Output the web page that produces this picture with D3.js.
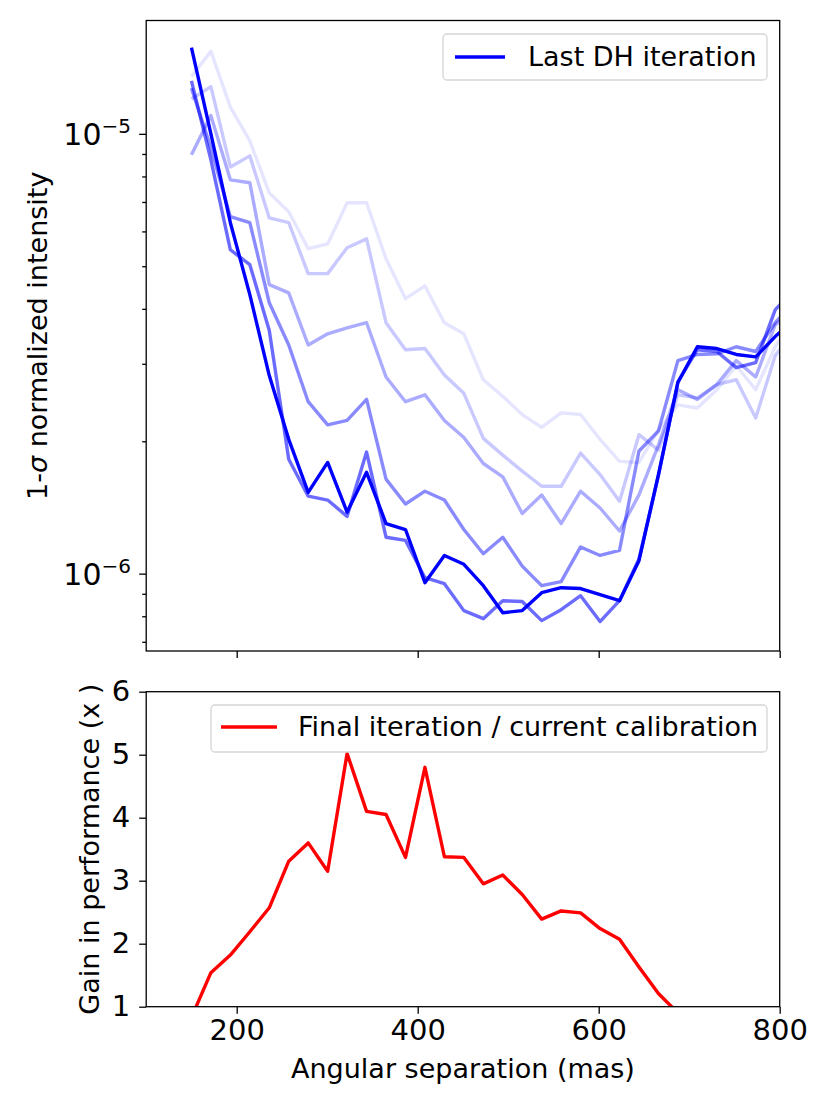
<!DOCTYPE html>
<html>
<head>
<meta charset="utf-8">
<script src="https://cdn.jsdelivr.net/npm/d3@7"></script>
<style>
    body { margin: 0; background: #fff; }
    text { font-family: "DejaVu Sans", sans-serif; fill: #000; }
</style>
</head>
<body>
<div id="chart"></div>
<script>
// angular separation (mas); the last sample lies past the x limit and gets clipped
const separation = [150, 171.5, 193, 214.5, 236, 257.5, 279, 300.5, 322, 343.5, 365, 386.5, 408, 429.5, 451,
    472.5, 494, 515.5, 537, 558.5, 580, 601.5, 623, 644.5, 666, 687.5, 709, 730.5, 752, 773.5, 795, 816.5];

// 1-sigma normalized intensity, in units of 1e-6, one array per dark hole iteration
const iter1 = [13.5, 15.4, 11.5, 9.64, 7.34, 6.65, 5.48, 5.62, 6.97, 6.97, 5.20, 4.22, 4.51, 3.72, 3.51, 2.76,
    2.53, 2.30, 2.15, 2.32, 2.30, 2.02, 1.80, 1.79, 2.12, 2.42, 2.38, 2.62, 2.97, 2.62, 3.28, 3.82];
const iter2 = [12.0, 12.8, 8.41, 8.91, 6.44, 6.28, 4.81, 4.81, 5.51, 5.77, 3.72, 3.23, 3.25, 2.83, 2.57, 2.03,
    1.86, 1.71, 1.58, 1.58, 1.88, 1.68, 1.46, 2.07, 1.91, 2.55, 2.51, 2.69, 2.76, 2.26, 3.13, 3.58];
const iter3 = [8.96, 11.0, 7.86, 7.74, 4.54, 4.35, 3.31, 3.51, 3.62, 3.72, 2.80, 2.46, 2.55, 2.23, 2.04, 1.78,
    1.66, 1.37, 1.51, 1.30, 1.54, 1.41, 1.25, 1.51, 1.96, 2.62, 2.49, 2.69, 3.05, 2.80, 3.68, 3.96];
const iter4 = [12.7, 9.29, 6.48, 6.28, 4.13, 3.31, 2.46, 2.18, 2.23, 2.49, 1.64, 1.44, 1.54, 1.47, 1.26, 1.11,
    1.21, 1.04, 0.939, 0.959, 1.15, 1.10, 1.13, 1.90, 2.11, 3.05, 3.15, 3.16, 3.28, 3.20, 3.72, 4.15];
const iter5 = [13.2, 8.73, 5.45, 5.04, 3.57, 1.82, 1.50, 1.47, 1.35, 1.89, 1.21, 1.19, 0.979, 0.949, 0.824, 0.790,
    0.868, 0.864, 0.782, 0.828, 0.891, 0.778, 0.868, 1.08, 1.67, 2.73, 3.23, 3.20, 2.94, 3.02, 3.98, 4.44];
const lastIter = [15.7, 10.0, 6.28, 4.31, 2.82, 2.02, 1.53, 1.79, 1.38, 1.70, 1.30, 1.26, 0.954, 1.10, 1.05, 0.939,
    0.815, 0.824, 0.905, 0.929, 0.925, 0.896, 0.868, 1.07, 1.68, 2.72, 3.28, 3.25, 3.15, 3.11, 3.46, 3.78];

// gain of the final iteration over the current calibration (first samples of separation)
const gain = [0.83, 1.54, 1.82, 2.19, 2.57, 3.31, 3.60, 3.15, 5.02, 4.10, 4.05, 3.37, 4.80, 3.38, 3.37, 2.95,
    3.09, 2.78, 2.39, 2.52, 2.49, 2.24, 2.07, 1.63, 1.21, 0.90];

const xTicks = [200, 400, 600, 800];
const gainTicks = [1, 2, 3, 4, 5, 6];
const majorLog = [{v: 1e-5, exp: "\u22125"}, {v: 1e-6, exp: "\u22126"}];
const minorLog = [7e-7, 8e-7, 9e-7, 2e-6, 3e-6, 4e-6, 5e-6, 6e-6, 7e-6, 8e-6, 9e-6];

window.onload = function () {
    drawChart();
};

function drawChart() {
    const width = 830, height = 1107;
    const left = 146.2, right = 779.7;
    const topBox = {top: 20.5, bottom: 651};
    const botBox = {top: 691.7, bottom: 1006.7};

    let svg = d3.select("#chart")
        .append("svg")
        .attr("width", width)
        .attr("height", height);

    let x = d3.scaleLinear().domain([100, 800]).range([left, right]);
    let yTop = d3.scaleLog().domain([6.67e-7, 1.81e-5]).range([topBox.bottom, topBox.top]);
    let yBot = d3.scaleLinear().domain([1, 6]).range([botBox.bottom, botBox.top]);

    // clip regions for both panels
    let defs = svg.append("defs");
    defs.append("clipPath").attr("id", "clipTop").append("rect")
        .attr("x", left).attr("y", topBox.top)
        .attr("width", right - left).attr("height", topBox.bottom - topBox.top);
    defs.append("clipPath").attr("id", "clipBot").append("rect")
        .attr("x", left).attr("y", botBox.top)
        .attr("width", right - left).attr("height", botBox.bottom - botBox.top);

    // ---------- top panel ----------
    let series = [
        {data: iter1, alpha: 0.1},
        {data: iter2, alpha: 0.21},
        {data: iter3, alpha: 0.33},
        {data: iter4, alpha: 0.46},
        {data: iter5, alpha: 0.58},
        {data: lastIter, alpha: 1}
    ];

    let line = d3.line()
        .x(function (d, i) { return x(separation[i]); })
        .y(function (d) { return yTop(d * 1e-6); });

    svg.append("g")
        .attr("clip-path", "url(#clipTop)")
        .selectAll("path")
        .data(series)
        .enter()
        .append("path")
        .attr("d", function (s) { return line(s.data); })
        .attr("fill", "none")
        .attr("stroke", "blue")
        .attr("stroke-opacity", function (s) { return s.alpha; })
        .attr("stroke-width", 3.4)
        .attr("stroke-linejoin", "round");

    // log axis: major + minor ticks, labels drawn by hand for the superscript
    let yMajor = svg.append("g")
        .attr("transform", "translate(" + left + ",0)")
        .call(d3.axisLeft(yTop).tickValues(majorLog.map(function (d) { return d.v; }))
            .tickSize(7).tickSizeOuter(0).tickFormat(""));
    let yMinor = svg.append("g")
        .attr("transform", "translate(" + left + ",0)")
        .call(d3.axisLeft(yTop).tickValues(minorLog).tickSize(4).tickSizeOuter(0).tickFormat(""));

    let logLabels = svg.append("g").selectAll("text")
        .data(majorLog)
        .enter()
        .append("text")
        .attr("x", 131)
        .attr("y", function (d) { return yTop(d.v) + 11.5; })
        .attr("text-anchor", "end");
    logLabels.append("tspan").style("font-size", "30px").text("10");
    logLabels.append("tspan").style("font-size", "20px").attr("dy", -12)
        .text(function (d) { return d.exp; });

    let xTopAxis = svg.append("g")
        .attr("transform", "translate(0," + topBox.bottom + ")")
        .call(d3.axisBottom(x).tickValues(xTicks).tickSize(7).tickSizeOuter(0).tickFormat(""));

    svg.append("rect")
        .attr("x", left).attr("y", topBox.top)
        .attr("width", right - left).attr("height", topBox.bottom - topBox.top)
        .attr("fill", "none").attr("stroke", "#000").attr("stroke-width", 1.3);

    let yLabel = svg.append("text")
        .attr("transform", "translate(47," + (topBox.top + topBox.bottom) / 2 + ") rotate(-90)")
        .attr("text-anchor", "middle")
        .style("font-size", "27px");
    yLabel.append("tspan").text("1-");
    yLabel.append("tspan").style("font-style", "italic").text("\u03c3");
    yLabel.append("tspan").text(" normalized intensity");

    // legend (top)
    let legTop = svg.append("g");
    legTop.append("rect")
        .attr("x", 443).attr("y", 34).attr("width", 324).attr("height", 46).attr("rx", 4)
        .attr("fill", "#fff").attr("fill-opacity", 0.8)
        .attr("stroke", "#d5d5d5").attr("stroke-width", 1.3);
    legTop.append("line")
        .attr("x1", 455).attr("x2", 505).attr("y1", 57).attr("y2", 57)
        .attr("stroke", "blue").attr("stroke-width", 3.4);
    legTop.append("text")
        .attr("x", 528).attr("y", 66)
        .style("font-size", "27px")
        .text("Last DH iteration");

    // ---------- bottom panel ----------
    let gainLine = d3.line()
        .x(function (d, i) { return x(separation[i]); })
        .y(function (d) { return yBot(d); });

    svg.append("g")
        .attr("clip-path", "url(#clipBot)")
        .append("path")
        .datum(gain)
        .attr("d", gainLine)
        .attr("fill", "none")
        .attr("stroke", "red")
        .attr("stroke-width", 3.4)
        .attr("stroke-linejoin", "round");

    let yBotAxis = svg.append("g")
        .attr("transform", "translate(" + left + ",0)")
        .call(d3.axisLeft(yBot).tickValues(gainTicks).tickSize(7).tickSizeOuter(0).tickPadding(9)
            .tickFormat(d3.format("d")));

    let xBotAxis = svg.append("g")
        .attr("transform", "translate(0," + botBox.bottom + ")")
        .call(d3.axisBottom(x).tickValues(xTicks).tickSize(7).tickSizeOuter(0).tickPadding(6)
            .tickFormat(d3.format("d")));

    [yMajor, yMinor, xTopAxis, yBotAxis, xBotAxis].forEach(function (g) {
        g.select(".domain").remove();
        g.selectAll(".tick line").attr("stroke", "#000").attr("stroke-width", 1.3);
        g.selectAll(".tick text").style("font-size", "29px").attr("fill", "#000")
            .style("font-family", "'DejaVu Sans', sans-serif");
    });

    svg.append("rect")
        .attr("x", left).attr("y", botBox.top)
        .attr("width", right - left).attr("height", botBox.bottom - botBox.top)
        .attr("fill", "none").attr("stroke", "#000").attr("stroke-width", 1.3);

    svg.append("text")
        .attr("transform", "translate(99," + (botBox.top + botBox.bottom) / 2 + ") rotate(-90)")
        .attr("text-anchor", "middle")
        .style("font-size", "27px")
        .text("Gain in performance (x )");

    svg.append("text")
        .attr("x", (left + right) / 2)
        .attr("y", 1078)
        .attr("text-anchor", "middle")
        .style("font-size", "27px")
        .text("Angular separation (mas)");

    // legend (bottom)
    let legBot = svg.append("g");
    legBot.append("rect")
        .attr("x", 211).attr("y", 705).attr("width", 556).attr("height", 47).attr("rx", 4)
        .attr("fill", "#fff").attr("fill-opacity", 0.8)
        .attr("stroke", "#d5d5d5").attr("stroke-width", 1.3);
    legBot.append("line")
        .attr("x1", 221).attr("x2", 277).attr("y1", 727).attr("y2", 727)
        .attr("stroke", "red").attr("stroke-width", 3.4);
    legBot.append("text")
        .attr("x", 298).attr("y", 736)
        .style("font-size", "27px")
        .text("Final iteration / current calibration");
}
</script>
</body>
</html>
